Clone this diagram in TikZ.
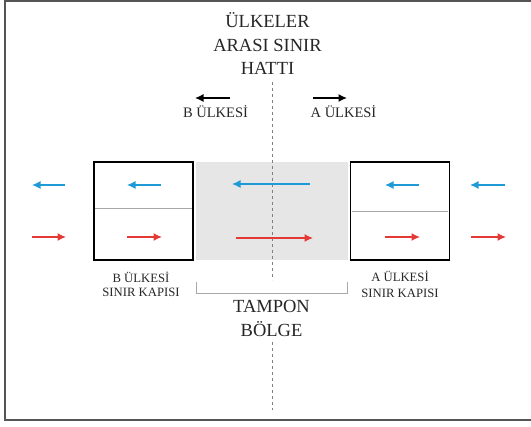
\documentclass[tikz,border=0pt]{standalone}
\usepackage{fontspec}
\setmainfont{Liberation Serif}
\usetikzlibrary{arrows.meta}
\definecolor{flowblue}{HTML}{1E9AD6}
\definecolor{flowred}{HTML}{E53935}
\definecolor{buffergray}{HTML}{E6E6E6}
\definecolor{framegray}{HTML}{555555}
\definecolor{linegray}{HTML}{A8A8A8}
\begin{document}
\begin{tikzpicture}[x=1pt,y=-1pt,
  gatebox/.style={draw=black, line width=1.8pt, minimum width=99pt, minimum height=98pt, inner sep=0pt},
  bufferzone/.style={fill=buffergray, draw=none, minimum width=152pt, minimum height=98pt, inner sep=0pt},
  divider/.style={draw=linegray, line width=0.8pt},
  tipstyle/.style={-{Latex[length=8.5pt,width=8pt]}},
  bluearrow/.style={draw=flowblue, line width=1.4pt, tipstyle},
  redarrow/.style={draw=flowred, line width=1.4pt, tipstyle},
  blackarrow/.style={draw=black, line width=1.4pt, tipstyle},
  borderline/.style={draw=gray, line width=0.8pt, dash pattern=on 3pt off 3pt},
  bracketline/.style={draw=linegray, line width=0.8pt},
  bigtext/.style={font=\fontsize{18.5}{23.5}\selectfont, inner sep=0pt, text=black!85},
  midtext/.style={font=\fontsize{14.5}{16}\selectfont, inner sep=0pt, text=black!85},
  smalltext/.style={font=\fontsize{12.7}{14.5}\selectfont, inner sep=0pt, text=black!85}]
\useasboundingbox (0,0) rectangle (531,427);
% frame
\draw[framegray, line width=1.2pt] (531,1) -- (5,1) -- (5,420) -- (531,420);

% buffer zone and gates
\node[bufferzone] (buffer) at (272,211) {};
\node[gatebox] (gateB) at (143.5,211) {};
\node[gatebox] (gateA) at (400,211) {};
\draw[divider] (95,208.3) -- (192,208.3);
\draw[divider] (352,211) -- (448,211);

% border line
\coordinate (lineTop) at (272,82);
\coordinate (lineMidA) at (272,280);
\coordinate (lineMidB) at (272,342);
\coordinate (lineBot) at (272,410);
\draw[borderline] (lineTop) -- (lineMidA);
\draw[borderline] (lineMidB) -- (lineBot);

% titles
\node[bigtext, anchor=base] (t1) at (267.5,28) {ÜLKELER};
\node[bigtext, anchor=base] (t2) at (267.5,51.5) {ARASI SINIR};
\node[bigtext, anchor=base] (t3) at (267.5,75) {HATTI};

% direction labels
\node[midtext, anchor=base] (labB) at (215.5,118) {B ÜLKESİ};
\node[midtext, anchor=base] (labA) at (343.5,118) {A ÜLKESİ};
\coordinate (dirBs) at (230,98); \coordinate (dirBe) at (195,98);
\coordinate (dirAs) at (313,98); \coordinate (dirAe) at (347,98);
\draw[blackarrow] (dirBs) -- (dirBe);
\draw[blackarrow] (dirAs) -- (dirAe);

% blue flows (toward B)
\coordinate (b1s) at (65,185);  \coordinate (b1e) at (32,185);
\coordinate (b2s) at (161,185); \coordinate (b2e) at (127,185);
\coordinate (b3s) at (310,184); \coordinate (b3e) at (232,184);
\coordinate (b4s) at (419,185); \coordinate (b4e) at (385,185);
\coordinate (b5s) at (505,185); \coordinate (b5e) at (470,185);
\foreach \s/\e in {b1s/b1e,b2s/b2e,b3s/b3e,b4s/b4e,b5s/b5e}
  \draw[bluearrow] (\s) -- (\e);

% red flows (toward A)
\coordinate (r1s) at (32,237);  \coordinate (r1e) at (66,237);
\coordinate (r2s) at (127,237); \coordinate (r2e) at (162,237);
\coordinate (r3s) at (236,238); \coordinate (r3e) at (313,238);
\coordinate (r4s) at (385,237); \coordinate (r4e) at (420,237);
\coordinate (r5s) at (471,237); \coordinate (r5e) at (506,237);
\foreach \s/\e in {r1s/r1e,r2s/r2e,r3s/r3e,r4s/r4e,r5s/r5e}
  \draw[redarrow] (\s) -- (\e);

% gate labels
\node[smalltext, anchor=base] (gB1) at (141,282.7) {B ÜLKESİ};
\node[smalltext, anchor=base] (gB2) at (141,297) {SINIR KAPISI};
\node[smalltext, anchor=base] (gA1) at (400,282) {A ÜLKESİ};
\node[smalltext, anchor=base] (gA2) at (400,297.5) {SINIR KAPISI};

% bracket
\draw[bracketline] (196,282) -- (196,293) -- (347,293) -- (347,282);

% buffer zone label
\node[bigtext, anchor=base] (tp1) at (271.5,313) {TAMPON};
\node[bigtext, anchor=base] (tp2) at (271.5,336.7) {BÖLGE};
\end{tikzpicture}
\end{document}
